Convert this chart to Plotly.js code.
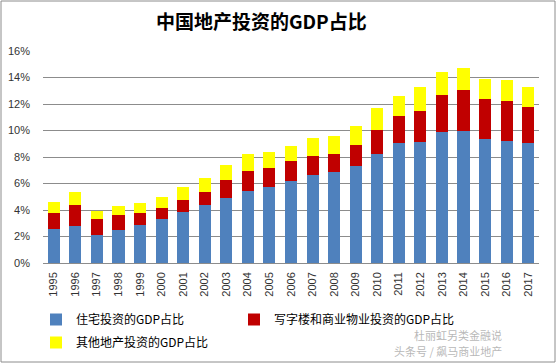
<!DOCTYPE html>
<html>
<head>
<meta charset="utf-8">
<script src="https://cdn.plot.ly/plotly-3.0.1.min.js"></script>
<style>html,body{margin:0;padding:0;background:#fff;}#chart{width:556px;height:363px;}</style>
</head>
<body>
<div id="chart"></div>
<script>
var years = ['1995','1996','1997','1998','1999','2000','2001','2002','2003','2004','2005','2006','2007','2008','2009','2010','2011','2012','2013','2014','2015','2016','2017'];
var residential = [2.59,2.81,2.14,2.51,2.89,3.34,3.87,4.35,4.92,5.45,5.75,6.21,6.66,6.88,7.34,8.24,9.07,9.15,9.90,9.97,9.37,9.22,9.07];
var commercial = [1.20,1.59,1.20,1.08,0.90,0.83,0.90,1.03,1.36,1.51,1.44,1.50,1.43,1.36,1.58,1.81,2.04,2.33,2.79,3.10,3.02,3.02,2.71];
var other = [0.83,0.93,0.60,0.68,0.71,0.78,0.93,1.03,1.08,1.23,1.20,1.13,1.31,1.36,1.43,1.66,1.50,1.81,1.73,1.68,1.53,1.58,1.51];
var seriesNames = ['住宅投资的GDP占比','写字楼和商业物业投资的GDP占比','其他地产投资的GDP占比'];
var titleText = '中国地产投资的GDP占比';
var wm1 = '杜丽虹另类金融说';
var wm2 = '头条号 / 飙马商业地产';

var cjk = '"Noto Sans CJK SC", "Liberation Sans", sans-serif';
var L = 43, R = 539, T = 51, B = 263, W = 556, H = 363;
var pw = R - L, ph = B - T;
function px(x){ return (x - L) / pw; }
function py(y){ return (B - y) / ph; }

var traces = [
  {type:'bar', name:seriesNames[0], x:years, y:residential, marker:{color:'#4F81BD'}, legend:'legend'},
  {type:'bar', name:seriesNames[1], x:years, y:commercial, marker:{color:'#C00000'}, legend:'legend2'},
  {type:'bar', name:seriesNames[2], x:years, y:other, marker:{color:'#FFFF00'}, legend:'legend3'}
];

var legendFont = {family:cjk, size:12, color:'#000'};
function mkLegend(xPix, yPix){
  return {orientation:'h', xref:'container', yref:'container', x:xPix/W, xanchor:'left', y:1-yPix/H, yanchor:'top', font:legendFont, itemwidth:30, bgcolor:'rgba(0,0,0,0)'};
}
var layout = {
  width: W, height: H,
  margin: {l:L, r:W-R, t:T, b:H-B, pad:0},
  paper_bgcolor:'#fff', plot_bgcolor:'#fff',
  barmode:'stack', bargap:0.44,
  showlegend:true,
  title:{text:'<b>'+titleText+'</b>', font:{family:cjk, size:19, color:'#000'}, x:0.47, xanchor:'center', y:1-22/H, yanchor:'middle'},
  xaxis:{type:'category', tickangle:-90, ticklabelstandoff:6, automargin:false, tickfont:{family:'"Liberation Sans", sans-serif', size:11, color:'#333'}, showgrid:false, showline:false, ticks:'', zeroline:false, fixedrange:true},
  yaxis:{range:[0,16], dtick:2, ticksuffix:'%', ticklabelstandoff:12, automargin:false, tickfont:{family:'"Liberation Sans", sans-serif', size:11, color:'#333'}, showgrid:true, gridcolor:'#8c8c8c', gridwidth:1, zeroline:true, zerolinecolor:'#8c8c8c', zerolinewidth:1, showline:false, ticks:'', fixedrange:true},
  legend: mkLegend(36, 305),
  legend2: mkLegend(234, 305),
  legend3: mkLegend(36, 328),
  shapes:[{type:'rect', xref:'paper', yref:'paper', x0:px(1), x1:px(555), y0:py(362), y1:py(1), line:{color:'#8c8c8c', width:1}, fillcolor:'rgba(0,0,0,0)', layer:'above'}],
  annotations:[
    {xref:'paper', yref:'paper', x:px(458), y:py(335), text:wm1, showarrow:false, font:{family:cjk, size:11, color:'rgba(160,160,160,0.75)'}, xanchor:'center', yanchor:'middle'},
    {xref:'paper', yref:'paper', x:px(448), y:py(351), text:wm2, showarrow:false, font:{family:cjk, size:11, color:'rgba(160,160,160,0.75)'}, xanchor:'center', yanchor:'middle'}
  ]
};

Plotly.newPlot('chart', traces, layout, {displayModeBar:false, staticPlot:true});
</script>
</body>
</html>
